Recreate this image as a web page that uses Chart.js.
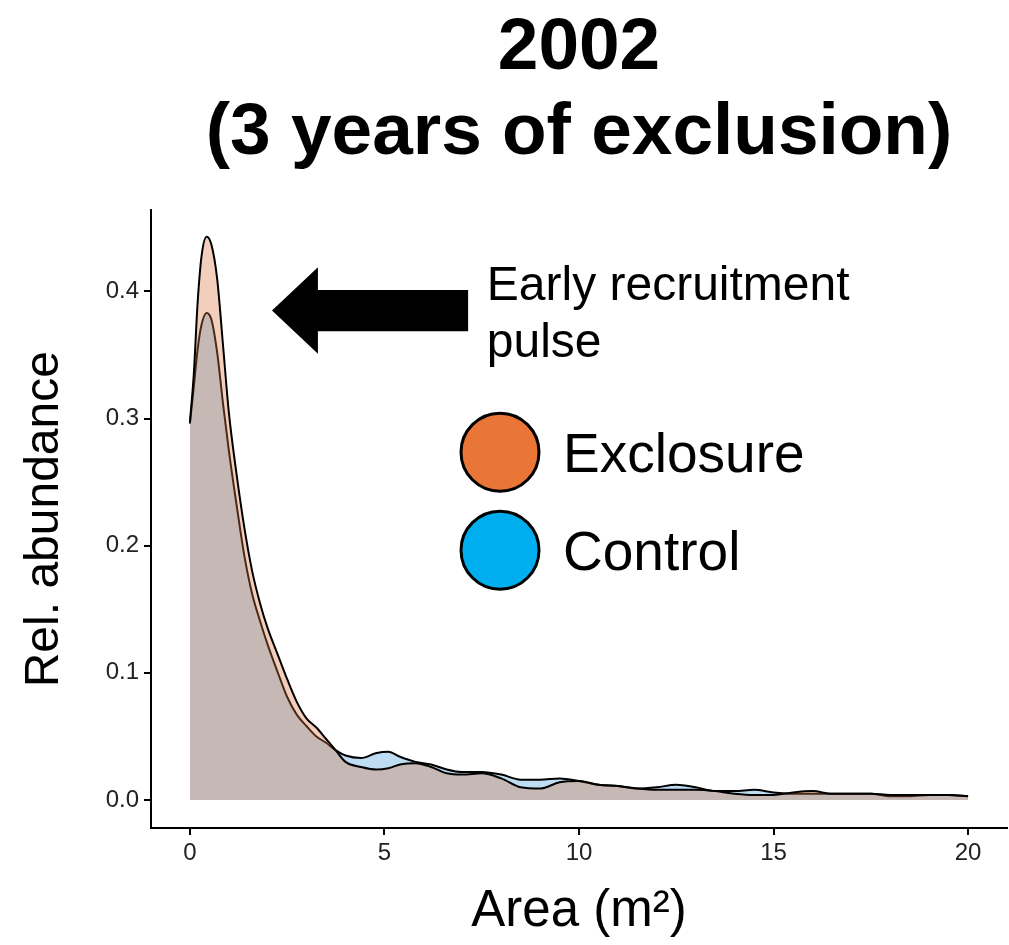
<!doctype html>
<html>
<head>
    <title>2002 (3 years of exclusion)</title>
    <script src="https://cdn.jsdelivr.net/npm/chart.js"></script>
    <style>
        body { margin: 0; background: #fff; }
        #caixa { width: 1009px; height: 945px; }
    </style>
</head>
<body>

<div id="caixa"><canvas id="densidade"></canvas></div>

<script>
    // Area (m2) where the two density curves were read
    var areaX = [0, 0.1, 0.2, 0.3, 0.43, 0.55, 0.7, 0.85, 1.0, 1.2, 1.4, 1.6, 1.8, 2.0, 2.25, 2.5, 2.75,
        3.0, 3.25, 3.5, 3.75, 4.0, 4.4, 4.8, 5.1, 5.4, 5.8, 6.2, 6.6, 7.0, 7.5, 8.0, 8.5, 9.0, 9.5,
        10, 10.5, 11, 11.5, 12, 12.5, 13, 13.5, 14, 14.5, 15, 15.5, 16, 16.5, 17, 17.5, 18, 18.5, 19, 19.5, 20];

    // Relative abundance, exclosure plots
    var exclosure = [0.297, 0.335, 0.392, 0.428, 0.443, 0.437, 0.410, 0.358, 0.305, 0.256, 0.214, 0.180, 0.155, 0.135, 0.115, 0.095, 0.077,
        0.064, 0.057, 0.048, 0.039, 0.030, 0.026, 0.024, 0.025, 0.028, 0.029, 0.026, 0.021, 0.020, 0.021, 0.017, 0.010, 0.009, 0.014,
        0.015, 0.012, 0.011, 0.009, 0.008, 0.008, 0.008, 0.007, 0.005, 0.004, 0.004, 0.006, 0.007, 0.005, 0.005, 0.005, 0.004, 0.004, 0.004, 0.004, 0.003];

    // Relative abundance, control plots
    var control = [0.296, 0.325, 0.355, 0.374, 0.383, 0.378, 0.352, 0.312, 0.275, 0.232, 0.192, 0.162, 0.141, 0.122, 0.101, 0.081, 0.067,
        0.058, 0.050, 0.045, 0.039, 0.035, 0.033, 0.037, 0.038, 0.034, 0.030, 0.028, 0.024, 0.022, 0.022, 0.020, 0.016, 0.016, 0.017,
        0.015, 0.012, 0.011, 0.009, 0.010, 0.012, 0.010, 0.007, 0.007, 0.008, 0.006, 0.005, 0.005, 0.005, 0.005, 0.005, 0.003, 0.003, 0.004, 0.004, 0.003];

    var xTicks = [0, 5, 10, 15, 20];
    var yTicks = [0, 0.1, 0.2, 0.3, 0.4];

    var legendLabels = ['Exclosure', 'Control'];
    var legendColors = ['#E97636', '#00AEEF'];

    var fonte = "'Liberation Sans', Arial, sans-serif";

    function pontos(valores) {
        return areaX.map(function (x, i) { return { x: x, y: valores[i] }; });
    }

    // Arrow, note and legend, placed in data units
    var notas = {
        id: 'notas',
        afterDraw: function (chart) {
            var ctx = chart.ctx;
            var sx = chart.scales.x, sy = chart.scales.y;
            var px = function (v) { return sx.getPixelForValue(v); };
            var py = function (v) { return sy.getPixelForValue(v); };

            ctx.save();
            // black block arrow
            ctx.fillStyle = '#000';
            ctx.beginPath();
            ctx.moveTo(px(2.11), py(0.385));
            ctx.lineTo(px(3.29), py(0.419));
            ctx.lineTo(px(3.29), py(0.401));
            ctx.lineTo(px(7.15), py(0.401));
            ctx.lineTo(px(7.15), py(0.3686));
            ctx.lineTo(px(3.29), py(0.3686));
            ctx.lineTo(px(3.29), py(0.351));
            ctx.closePath();
            ctx.fill();

            // note text
            ctx.font = '48px ' + fonte;
            ctx.textAlign = 'left';
            ctx.textBaseline = 'alphabetic';
            ctx.fillText('Early recruitment', px(7.63), py(0.3929));
            ctx.fillText('pulse', px(7.63), py(0.3480));

            // legend
            var legendY = [0.2735, 0.1965];
            ctx.font = '55px ' + fonte;
            legendLabels.forEach(function (txt, i) {
                var cx = px(7.97), cy = py(legendY[i]);
                ctx.beginPath();
                ctx.arc(cx, cy, 39, 0, Math.PI * 2);
                ctx.fillStyle = legendColors[i];
                ctx.fill();
                ctx.lineWidth = 3;
                ctx.strokeStyle = '#000';
                ctx.stroke();
                ctx.fillStyle = '#000';
                ctx.fillText(txt, px(9.59), cy + 55 * 0.358);
            });
            ctx.restore();
        }
    };

    var grafico = new Chart(document.getElementById('densidade').getContext('2d'), {
        type: 'line',
        data: {
            datasets: [{
                label: legendLabels[0],
                data: pontos(exclosure),
                borderColor: '#000',
                borderWidth: 2,
                backgroundColor: 'rgba(215, 118, 64, 0.35)',
                fill: 'origin',
                pointRadius: 0,
                cubicInterpolationMode: 'monotone'
            }, {
                label: legendLabels[1],
                data: pontos(control),
                borderColor: '#000',
                borderWidth: 2,
                backgroundColor: 'rgba(69, 158, 221, 0.35)',
                fill: 'origin',
                pointRadius: 0,
                cubicInterpolationMode: 'monotone'
            }]
        },
        options: {
            responsive: true,
            maintainAspectRatio: false,
            animation: false,
            layout: { padding: { right: 2 } },
            scales: {
                x: {
                    type: 'linear',
                    min: -1,
                    max: 21,
                    afterBuildTicks: function (s) { s.ticks = xTicks.map(function (v) { return { value: v }; }); },
                    afterFit: function (s) { s.height = 117; },
                    grid: { drawOnChartArea: false, color: '#000', lineWidth: 2, tickLength: 7 },
                    border: { color: '#000', width: 2 },
                    ticks: { color: '#222', padding: 4, font: { family: fonte, size: 24 } },
                    title: {
                        display: true,
                        text: 'Area (m²)',
                        color: '#000',
                        font: { family: fonte, size: 51 },
                        padding: { top: 0, bottom: 2 }
                    }
                },
                y: {
                    min: -0.022,
                    max: 0.4637,
                    afterBuildTicks: function (s) { s.ticks = yTicks.map(function (v) { return { value: v }; }); },
                    afterFit: function (s) { s.width = 151; },
                    grid: { drawOnChartArea: false, color: '#000', lineWidth: 2, tickLength: 7 },
                    border: { color: '#000', width: 2 },
                    ticks: {
                        color: '#222',
                        padding: 5,
                        font: { family: fonte, size: 24 },
                        callback: function (v) { return v.toFixed(1); }
                    },
                    title: {
                        display: true,
                        text: 'Rel. abundance',
                        color: '#000',
                        font: { family: fonte, size: 48 },
                        padding: { top: 16, bottom: 0 }
                    }
                }
            },
            plugins: {
                legend: { display: false },
                tooltip: { enabled: false },
                title: {
                    display: true,
                    fullSize: false,
                    text: ['2002', '(3 years of exclusion)'],
                    color: '#000',
                    font: { family: fonte, size: 73, weight: 'bold', lineHeight: 1.16 },
                    padding: { top: 7, bottom: 34 }
                }
            }
        },
        plugins: [notas]
    });
</script>
</body>
</html>
